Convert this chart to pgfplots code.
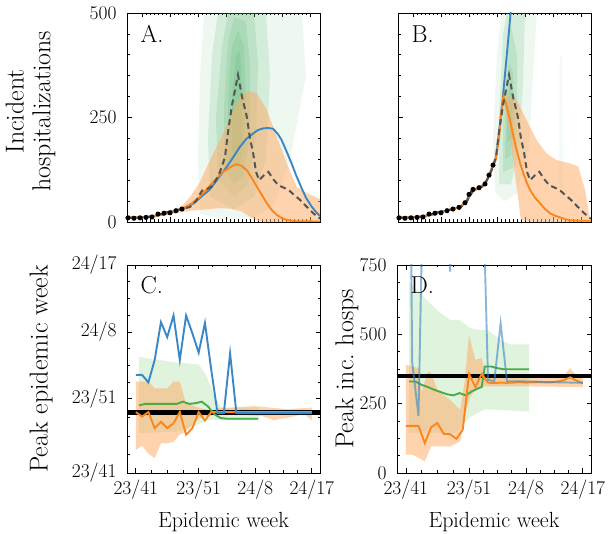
\documentclass[border=0pt]{standalone}
\usepackage{fontspec}
\usepackage{pgfplots}
\pgfplotsset{compat=1.18}
\definecolor{cblue}{RGB}{58,135,198}
\definecolor{corange}{RGB}{250,135,30}
\definecolor{cgreen}{RGB}{76,170,72}
\definecolor{cband}{RGB}{253,174,107}
\definecolor{cdens}{RGB}{65,171,93}
\definecolor{cgband}{RGB}{186,228,179}
\definecolor{ctruth}{RGB}{85,85,85}
\tikzset{plab/.style={anchor=base west, font=\fontsize{24.5}{28}\selectfont}}
\pgfplotsset{
  myax/.style={scale only axis, anchor=south west,
    /pgf/number format/assume math mode=true,
    axis line style={line width=0.9bp},
    tick align=inside, major tick length=4.5bp, minor tick length=2.5bp,
    every tick/.style={black, line width=0.7bp},
    tick label style={font=\fontsize{19.5}{22}\selectfont},
    yticklabel style={xshift=-7bp},
    xticklabel style={yshift=-3bp},
    ylabel style={font=\fontsize{26}{27}\selectfont},
    xlabel style={font=\fontsize{22}{26}\selectfont}},
  topax/.style={myax, width=193bp, height=209bp, xmin=-3.75, xmax=44.5, ymin=0, ymax=500,
    xtick={0,7,...,42}, xticklabels={}, minor x tick num=6,
    ytick={0,250,500}, minor y tick num=4},
  botax/.style={myax, height=208bp, xmin=-1.4, xmax=29.3,
    xtick={0,10,19,28}, xticklabels={23/41,23/51,24/8,24/17},
    minor xtick={2.5,5,7.5,12.25,14.5,16.75,21.25,23.5,25.75},
    xlabel={Epidemic week},
    xlabel style={at={(axis description cs:0.5,-0.235)}, anchor=center}},
  dens/.style={fill=cdens, fill opacity=0.15, draw=none},
  band/.style={fill=cband, fill opacity=0.55, draw=none},
  gband/.style={fill=cgband, fill opacity=0.45, draw=none},
  lblue/.style={cblue, line width=1.9bp},
  lorange/.style={corange, line width=1.9bp},
  lgreen/.style={cgreen, line width=1.9bp},
  ltruth/.style={ctruth, line width=2bp, dash pattern=on 6bp off 4bp},
  lobs/.style={black, line width=1bp, mark=*, mark size=2bp, mark repeat=2, mark options={solid}},
  lpeak/.style={black, line width=4.5bp}
}
\begin{document}
\begin{tikzpicture}
\useasboundingbox (0bp,0bp) rectangle (610bp,534bp);

% ---------------- Panel A ----------------
\begin{axis}[topax, at={(127bp,312bp)},
  ylabel={Incident\\hospitalizations},
  ylabel style={align=center, at={(axis description cs:-0.5,0.53)}, anchor=center}]
\addplot[dens, fill opacity=0.09] coordinates {(14.5,20) (14,150) (14.5,350) (15.5,500) (40,500) (41,350) (37,150) (33,40) (28,10) (20,5)};
\addplot[dens] coordinates {(17,60) (16.5,200) (17.5,400) (19,500) (31,500) (32,350) (31,150) (28,60) (23,30)};
\addplot[dens] coordinates {(19,100) (18.5,250) (20,420) (21.5,500) (28,500) (29,380) (28.5,200) (26.5,90) (23,60)};
\addplot[dens] coordinates {(20.5,130) (20.5,280) (21.5,430) (23,490) (26,480) (27,380) (27,220) (25.5,110) (23,90)};
\addplot[dens] coordinates {(21.5,150) (21.5,300) (22.5,420) (24,460) (25.5,420) (26,300) (25.5,170) (24,130)};
\addplot[dens] coordinates {(22.5,170) (22.5,300) (23.5,400) (24.5,410) (25,320) (25,200) (24,160)};
\addplot[band] coordinates {(8,28) (10,38) (12,60) (14.5,96) (17,148) (20.3,212) (22.8,268) (24.5,300) (26.6,312) (28.7,308) (31.2,268) (33.7,204) (36.2,140) (38.7,84) (41.2,69) (44.5,55) (44.5,0) (31,0) (29,3) (27,12) (25,25) (22,32) (19,33) (16,30) (13,28) (10,24) (8,20)};
\addplot[lobs] coordinates {(-3.5,10) (-2.75,11) (-2,9) (-1.25,11) (-0.5,10) (0.25,12) (1,11) (1.75,13) (2.5,12) (3.25,15) (4,19) (4.75,17) (5.5,21) (6.25,24) (7,22) (7.75,26) (8.5,27) (9.25,30) (10,31)};
\addplot[lblue] coordinates {(-3.75,10) (0,11) (4,16) (8,24) (10.3,32) (13,45) (15,62) (17,78) (19,104) (21.2,132) (23,158) (24.5,180) (26,198) (27.8,212) (29,220) (30.3,224) (31.5,225) (32.8,223) (34,210) (34.9,196) (36,172) (37.4,140) (38.6,110) (39.9,81) (41,58) (42.4,37) (43.5,24) (44.5,14)};
\addplot[lorange] coordinates {(-3.75,11) (0,11) (4,15) (8,24) (10.3,33) (12.5,45) (14.5,61) (16.5,82) (18.7,105) (20,118) (21.6,128) (22.7,135) (23.7,138) (24.8,135) (26.2,124) (27.4,106) (28.7,85) (30,64) (31.2,45) (32.4,29) (33.7,17) (35,9) (36.2,5) (38,2) (44.5,1)};
\addplot[ltruth] coordinates {(-3.75,10) (-2,10) (0,11) (2,12) (4,17) (6,23) (8,27) (10,31) (12,36) (13.5,50) (15,75) (16.2,78) (17.5,86) (18.5,100) (19.5,120) (20.75,155) (21.5,215) (22.5,280) (24,352) (25,300) (26.2,252) (27,200) (27.8,164) (28.5,120) (29.3,100) (30.5,112) (31.6,120) (33,100) (34.1,88) (36.6,77) (38,65) (39.5,53) (41,38) (42.8,21) (44.5,8)};
\node[plab] at (rel axis cs:0.052,0.861) {A.};
\end{axis}

% ---------------- Panel B ----------------
\begin{axis}[topax, at={(398bp,312bp)}, yticklabels={}]
\addplot[dens, fill opacity=0.09] coordinates {(20.5,70) (20,200) (21,400) (22,500) (31,500) (30,350) (29,180) (26,70) (23,50)};
\addplot[dens, fill opacity=0.06] coordinates {(36.5,80) (36.7,400) (37.3,400) (37.5,80)};
\addplot[dens] coordinates {(21.5,90) (21.5,250) (22.5,450) (23.5,500) (28,500) (27.5,330) (26.5,170) (24.5,90)};
\addplot[dens] coordinates {(22.5,120) (22.5,280) (23.5,420) (24.5,470) (26,400) (26,250) (25,130)};
\addplot[dens] coordinates {(23,150) (23.2,300) (24,380) (25,360) (25.3,250) (24.5,160)};
\addplot[dens] coordinates {(23.5,190) (23.6,280) (24.3,330) (24.9,290) (24.7,200)};
\addplot[band] coordinates {(19,120) (20.5,160) (21.5,230) (22.6,305) (24,300) (25.9,292) (28.4,244) (30.9,196) (33.4,164) (35.9,148) (39.25,140) (41.3,133) (43,77) (44,20) (44.5,0) (30,0) (27,5) (26.75,21) (25.9,84) (24.2,212) (22.6,290) (21.5,215) (20.5,145) (19,110)};
\addplot[lobs] coordinates {(-3.5,10) (-2.75,11) (-2,9) (-1.25,11) (-0.5,10) (0.25,12) (1,11) (1.75,13) (2.5,12) (3.25,15) (4,19) (4.75,17) (5.5,21) (6.25,24) (7,22) (7.75,26) (8.5,27) (9.25,30) (10,31) (10.75,33) (11.5,35) (12.25,38) (13,46) (13.5,55) (14,66) (14.5,74) (15,78) (15.75,80) (16.5,82) (17.25,87) (18,91) (18.5,100) (19,112) (19.5,124) (20,136) (20.75,152)};
\addplot[lblue] coordinates {(-3.75,12) (0,11) (4,16) (8,26) (10,31) (12,37) (13.5,52) (15,74) (16.5,82) (18,92) (19.25,116) (20.75,152) (21.5,215) (22.4,292) (23.4,395) (24.25,483) (24.7,540) (25.2,620)};
\addplot[lorange] coordinates {(-3.75,12) (0,11) (4,16) (8,26) (10,31) (12,37) (13.5,52) (15,74) (16.5,82) (18,92) (19.25,116) (20.75,152) (21.5,200) (22,255) (22.6,300) (23.2,285) (24.25,244) (25.1,205) (25.9,172) (26.8,140) (27.6,116) (28.4,95) (29.25,77) (30.5,58) (31.75,45) (33,31) (34.25,21) (35.5,15) (36.75,11) (38,7) (39.25,4) (41,3) (44.5,3)};
\addplot[ltruth] coordinates {(-3.75,10) (-2,10) (0,11) (2,12) (4,17) (6,23) (8,27) (10,31) (12,36) (13.5,50) (15,75) (16.2,78) (17.5,86) (18.5,100) (19.5,120) (20.75,155) (21.5,215) (22.5,280) (24,352) (25,300) (26.2,252) (27,200) (27.8,164) (28.5,120) (29.3,100) (30.5,112) (31.6,120) (33,100) (34.1,88) (36.6,77) (38,65) (39.5,53) (41,38) (42.8,21) (44.5,8)};
\node[plab] at (rel axis cs:0.052,0.861) {B.};
\end{axis}

% ---------------- Panel C ----------------
\begin{axis}[botax, at={(127bp,61bp)}, width=193bp,
  ymin=0, ymax=28, ytick={0,10,19,28}, yticklabels={23/41,23/51,24/8,24/17},
  minor ytick={2.5,5,7.5,12.25,14.5,16.75,21.25,23.5,25.75},
  ylabel={Peak epidemic week},
  ylabel style={at={(axis description cs:-0.445,0.5)}, anchor=center}]
\addplot[gband] coordinates {(0.5,15.7) (2,15.4) (4,15.2) (6,14.9) (8,14.8) (10,14.6) (11,13.5) (12,11.5) (12.5,10.3) (13.5,9.0) (14,8.8) (19.5,8.8) (19.5,7.1) (14,7.1) (12,7.2) (10,6.6) (8,5.9) (6,5.5) (4,5.5) (2,5.4) (0.5,5.4)};
\addplot[band] coordinates {(0,12.3) (1,12.3) (2,12.3) (3,11.4) (4,11.4) (5,11.4) (6,12.3) (7,12.3) (8,9.3) (9,9.1) (10,8.8) (11,8.6) (12,8.4) (13,8.7) (19,9.0) (24,8.6) (28,8.8) (28,7.1) (27,7.8) (26,7.8) (25,7.6) (24,7.4) (23,7.3) (22,7.1) (21,7.4) (20,7.7) (15,7.9) (13,8.0) (12,7.7) (11,7.6) (10,7.3) (9,6.5) (8,5.6) (7,5.15) (6,4.2) (5,4.0) (4,4.0) (3,2.0) (2,2.6) (1,3.7) (0,3.1)};
\addplot[lpeak] coordinates {(-1.4,8.15) (29.3,8.15)};
\addplot[lgreen] coordinates {(0.5,9.1) (1.5,9.3) (2.5,9.3) (3.5,9.3) (4.5,9.3) (5.5,9.3) (6.5,9.3) (7.5,9.6) (8.5,9.3) (9.5,9.4) (10.5,9.6) (11.5,8.95) (12.5,7.9) (13.5,7.4) (14.5,7.3) (15.5,7.3) (16.5,7.3) (17.5,7.3) (18.5,7.3) (19.5,7.3)};
\addplot[lorange] coordinates {(0,8.2) (1,7.6) (2,8.2) (3,6.05) (4,6.9) (5,6.05) (6,6.7) (7,8.2) (8,5.15) (9,6.05) (10,8.2) (11,7.07) (12,8.2) (13,8.2) (14,8.2) (15,8.2) (16,8.2) (17,8.2) (18,8.2) (19,8.2) (20,8.2) (21,8.2) (22,8.2) (23,8.2) (24,8.2) (25,8.2) (26,8.2) (27,8.2) (28,8.2)};
\addplot[lblue] coordinates {(0,13.2) (1,13.2) (2,12.2) (3,15.2) (4,20.3) (5,18.3) (6,21.2) (7,15.2) (8,21.2) (9,18.8) (10,16.2) (11,20.2) (12,13.9) (13,8.06) (14,8.06) (15,16.1) (16,8.06) (17,8.06) (18,8.06) (19,8.06) (20,8.06) (21,8.06) (22,8.06) (23,8.06) (24,8.06) (25,8.06) (26,8.06) (27,8.06) (28,8.06)};
\node[plab] at (rel axis cs:0.052,0.864) {C.};
\end{axis}

% ---------------- Panel D ----------------
\begin{axis}[botax, at={(397bp,61bp)}, width=194bp,
  ymin=0, ymax=750, ytick={0,250,500,750}, minor y tick num=3,
  ylabel={Peak inc.\ hosps},
  ylabel style={at={(axis description cs:-0.258,0.5)}, anchor=center}]
\addplot[gband] coordinates {(0.5,690) (2.8,636) (4.9,588) (7,552) (8.5,552) (10.2,522) (11.5,516) (13,516) (14.9,480) (16.5,464) (19.5,464) (19.5,222) (16,226) (12.5,230) (10,200) (9,170) (8,146) (0.5,146)};
\addplot[band] coordinates {(0,390) (1,385) (2,378) (2.5,290) (3,330) (3.5,366) (4,360) (5,300) (6,280) (7,264) (8,240) (8.6,228) (9.3,330) (10,498) (11,408) (12,414) (12.7,350) (13,345) (20,345) (25,350) (26,378) (27,350) (28,340) (28,310) (20,312) (12,312) (11,300) (10.2,276) (9.6,228) (8.6,114) (7,96) (4,96) (3,42) (2,55) (1,66) (0,66)};
\addplot[lpeak] coordinates {(-1.4,350) (29.3,350)};
\addplot[lgreen] coordinates {(0.5,330) (1.5,330) (2.5,318) (3.5,310) (4.5,300) (5.5,292) (6.5,284) (7.5,280) (8.5,288) (9.5,280) (10.5,295) (11.5,306) (12,310) (12.5,384) (13.5,384) (14.5,378) (15.5,374) (16.5,374) (17.5,374) (18.5,374) (19.5,374)};
\addplot[lorange] coordinates {(0,170) (1,170) (2,170) (3,108) (4,165) (5,180) (6,141) (7,140) (8,123) (9,156) (10,357) (11,310) (12,357) (13,326) (14,324) (15,326) (16,325) (17,326) (18,328) (19,326) (20,327) (21,328) (22,327) (23,327) (24,330) (25,335) (26,345) (27,333) (28,324)};
\addplot[lblue, draw opacity=0.6] coordinates {(0,3000) (1,400) (2,205) (3,1370) (4,1500) (5,1500) (6,1200) (7,726) (8,1400) (9,1500) (10,1500) (11,1500) (12,1200) (13,336) (14,331) (15,540) (16,331) (17,331) (18,331) (19,330) (20,330) (21,329) (22,328) (23,328) (24,327) (25,327) (26,326) (27,326) (28,325)};
\node[plab] at (rel axis cs:0.052,0.864) {D.};
\end{axis}
\end{tikzpicture}
\end{document}
